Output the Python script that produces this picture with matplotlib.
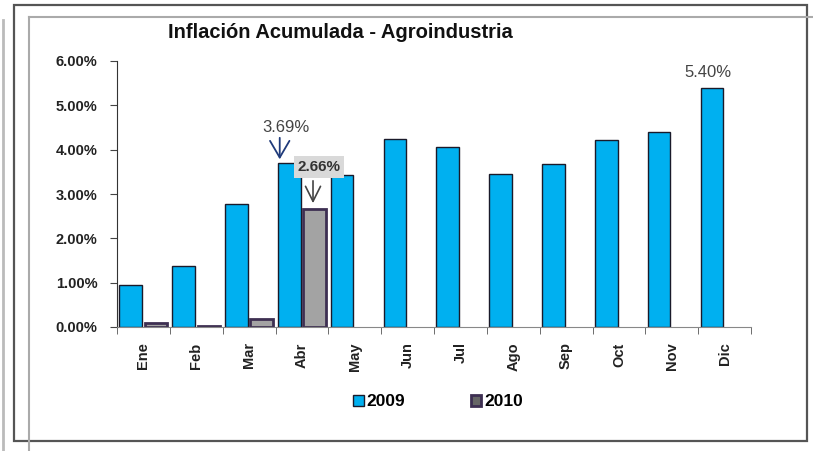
import matplotlib.pyplot as plt
from matplotlib.patches import Patch, Rectangle
from matplotlib.lines import Line2D

plt.rcParams['font.family'] = ['Liberation Sans', 'DejaVu Sans']

meses = ["Ene", "Feb", "Mar", "Abr", "May", "Jun", "Jul", "Ago", "Sep", "Oct", "Nov", "Dic"]
v2009 = [0.95, 1.38, 2.77, 3.69, 3.43, 4.23, 4.05, 3.45, 3.67, 4.21, 4.39, 5.40]
v2010 = [0.08, 0.02, 0.17, 2.66]
yticks = [0, 1, 2, 3, 4, 5, 6]

c2009 = "#00b0f0"
c2010 = "#a3a3a3"
edge2010 = "#3d2f52"

fig = plt.figure(figsize=(8.13, 4.51), dpi=100)

# frames around the chart (figure pixel coords, y from top)
W, H = 813, 451
def fx(x): return x / W
def fy(y): return 1 - y / H
fig.add_artist(Rectangle((fx(14), fy(441)), fx(807) - fx(14), fy(5) - fy(441),
                         fill=False, ec="#555555", lw=1.6, transform=fig.transFigure))
fig.add_artist(Line2D([fx(29), fx(29)], [0, fy(17)], color="#aaaaaa", lw=1.5))
fig.add_artist(Line2D([fx(29), 1], [fy(17), fy(17)], color="#aaaaaa", lw=1.5))
fig.add_artist(Line2D([fx(2.5), fx(2.5)], [0, fy(20)], color="#bbbbbb", lw=2))

ax = fig.add_axes([fx(117), fy(327), fx(751) - fx(117), fy(61) - fy(327)])

x = list(range(len(meses)))
ax.bar([i - 0.24 for i in x], v2009, width=0.43, color=c2009, edgecolor="#1a1a2a", lw=1)
ax.bar([i + 0.24 for i in range(len(v2010))], v2010, width=0.43, color=c2010,
       edgecolor=edge2010, lw=2)

ax.set_xlim(-0.5, 11.5)
ax.set_ylim(0, 6)
ax.set_yticks(yticks)
ax.set_yticklabels([f"{t:.2f}%" for t in yticks], fontsize=10.5, fontweight="bold", color="#222222")
ax.set_xticks(x)
ax.set_xticklabels(meses, rotation=90, fontsize=10.5, fontweight="bold", color="#222222")
ax.set_xticks([i - 0.5 for i in range(13)], minor=True)
ax.tick_params(axis="x", which="major", length=0, pad=11)
ax.tick_params(axis="x", which="minor", length=5, color="#555555")
ax.tick_params(axis="y", length=5, color="#444444", pad=9)
for s in ["top", "right"]:
    ax.spines[s].set_visible(False)
ax.spines["left"].set_color("#333333")
ax.spines["bottom"].set_color("#888888")

# annotations
ax.text(2.69, 4.49, "3.69%", ha="center", va="center", fontsize=12, color="#444444")
ax.annotate("", xy=(2.58, 3.72), xytext=(2.58, 4.33),
            arrowprops=dict(arrowstyle="->,head_length=0.6,head_width=0.35",
                            color="#1f3a7a", lw=1.3, mutation_scale=20))
ax.text(3.32, 3.61, "2.66%", ha="center", va="center", fontsize=11, fontweight="bold",
        color="#333333", zorder=5,
        bbox=dict(boxstyle="square,pad=0.25", fc="#d9d9d9", ec="none"))
ax.annotate("", xy=(3.21, 2.73), xytext=(3.21, 3.36),
            arrowprops=dict(arrowstyle="->,head_length=0.6,head_width=0.3",
                            color="#444444", lw=1.2, mutation_scale=18))
ax.text(10.69, 5.73, "5.40%", ha="center", va="center", fontsize=12, color="#444444")

fig.text(fx(340), fy(33), "Inflación Acumulada - Agroindustria", ha="center", va="center",
         fontsize=14.5, fontweight="bold", color="#111111")

handles = [Patch(fc=c2009, ec="#1a1a2a", lw=1), Patch(fc="#666666", ec=edge2010, lw=2)]
fig.legend(handles, ["2009", "2010"], loc="center", bbox_to_anchor=(fx(438), fy(402)),
           ncol=2, frameon=False, handlelength=0.6, handleheight=0.6, handletextpad=0.15,
           columnspacing=3.8, prop={"weight": "bold", "size": 12.5})

fig.savefig("out.png", dpi=100)
